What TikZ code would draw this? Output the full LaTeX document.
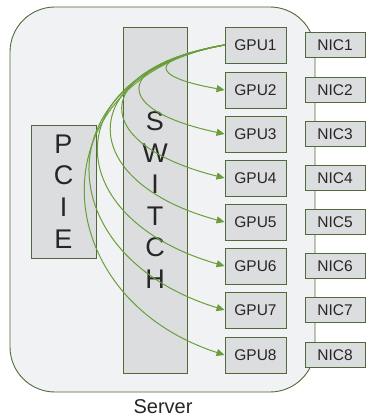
\documentclass[tikz,border=0pt]{standalone}
\usepackage{fontspec}
\setmainfont{Liberation Sans}
\usetikzlibrary{arrows.meta}
\definecolor{frame}{HTML}{50693A}
\definecolor{boxgray}{HTML}{DCDDDF}
\definecolor{srvgray}{HTML}{F1F2F4}
\definecolor{linkgreen}{HTML}{6A9E3B}
\definecolor{ink}{HTML}{262626}
\tikzstyle{server} = [draw=frame, fill=srvgray, line width=0.9pt, rounded corners=45pt, minimum width=305pt, minimum height=385pt, inner sep=0pt]
\tikzstyle{gpu} = [draw=frame, fill=boxgray, line width=0.9pt, minimum width=61pt, minimum height=36pt, inner sep=0pt, text=ink, font=\fontsize{15.5}{16}\selectfont]
\tikzstyle{nic} = [gpu, minimum width=60pt, minimum height=25pt]
\tikzstyle{bus} = [draw=frame, fill=boxgray, line width=0.9pt, inner sep=0pt, text=ink, align=center, font=\fontsize{27}{31.6}\selectfont]
\tikzstyle{p2p} = [draw=linkgreen, line width=1pt, -{Triangle[length=8pt,width=7pt]}]

\begin{document}
\begin{tikzpicture}[x=1pt, y=1pt]
    \useasboundingbox (0,0) rectangle (366,-417);
    \draw (162.5,-199.5) node[server] (srv) {};
    \draw (163,-413) node[anchor=base, text=ink, font=\fontsize{20}{22}\selectfont] (srvname) {Server};
    \draw (155,-200) node[bus, minimum width=64pt, minimum height=346pt] (sw) {S\\W\\I\\T\\C\\H};
    \draw (63.5,-191.5) node[bus, minimum width=65pt, minimum height=133pt] (pcie) {P\\C\\I\\E};
    % GPU rows and the NIC beside each
    \foreach \k/\y in {1/45, 2/90, 3/134, 4/178, 5/222, 6/266, 7/310, 8/355} {
        \draw (255.5,-\y) node[gpu] (g\k) {GPU\k};
    }
    % GPU1 talks to every other GPU through the switch
    \foreach \k/\d/\a in {2/78/170, 3/115/168, 4/139/166, 5/155/165, 6/173/164, 7/185/163, 8/192/162} {
        \draw[p2p] (g1.west) .. controls +(190:\d) and +(\a:\d) .. (g\k.west);
    }
    \foreach \k/\y in {1/45, 2/90, 3/134, 4/178, 5/222, 6/266, 7/310, 8/355} {
        \draw (335,-\y) node[nic] (n\k) {NIC\k};
    }
\end{tikzpicture}
\end{document}
